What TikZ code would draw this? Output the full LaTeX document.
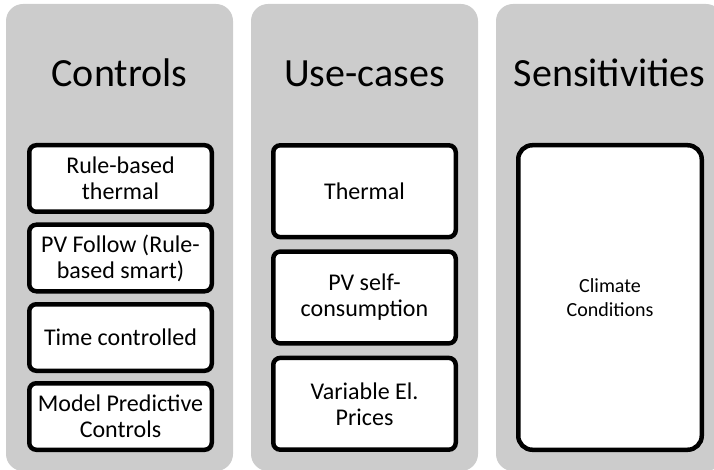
\documentclass[tikz,border=0pt]{standalone}
\usepackage{fontspec}
\setmainfont{Carlito}
\definecolor{panelgrey}{RGB}{204,204,204}
\begin{document}
\begin{tikzpicture}[x=1pt,y=-1pt,
  panel/.style={fill=panelgrey, rounded corners=17pt},
  cbox/.style={draw=black, fill=white, line width=4.5pt, rounded corners=7pt,
    align=center, inner sep=0pt, font=\fontsize{24}{26}\selectfont},
  bigbox/.style={cbox, rounded corners=14pt, font=\fontsize{20}{24}\selectfont},
  title/.style={anchor=base, inner sep=0pt, font=\fontsize{40}{48}\selectfont}]
\useasboundingbox (0,0) rectangle (714,470);
% panels
\path[panel] (6,4) rectangle (233,471);
\path[panel] (251,4) rectangle (478,471);
\path[panel] (496,4) rectangle (723,471);
% titles
\node[title] (tc) at (119.5,87) {Controls};
\node[title] (tu) at (364.5,87) {Use-cases};
\node[title] (ts) at (609.5,87) {Sensitivities};
% controls
\node[cbox, minimum width=182.5pt, minimum height=66.5pt] (c1) at (120.5,178.5) {Rule-based\\thermal};
\node[cbox, minimum width=182.5pt, minimum height=66.5pt] (c2) at (120.5,258) {PV Follow (Rule-\\based smart)};
\node[cbox, minimum width=182.5pt, minimum height=66.5pt] (c3) at (120.5,337.5) {Time controlled};
\node[cbox, minimum width=182.5pt, minimum height=66.5pt] (c4) at (120.5,416.5) {Model Predictive\\Controls};
% use-cases
\node[cbox, minimum width=182.5pt, minimum height=91.8pt] (u1) at (364.5,191.2) {Thermal};
\node[cbox, minimum width=182.5pt, minimum height=91.8pt] (u2) at (364.5,297.5) {PV self-\\consumption};
\node[cbox, minimum width=182.5pt, minimum height=91.8pt] (u3) at (364.5,403.8) {Variable El.\\Prices};
% sensitivities
\node[bigbox, minimum width=183.5pt, minimum height=304.5pt] (s1) at (610,297.5) {Climate\\Conditions};
\end{tikzpicture}
\end{document}
